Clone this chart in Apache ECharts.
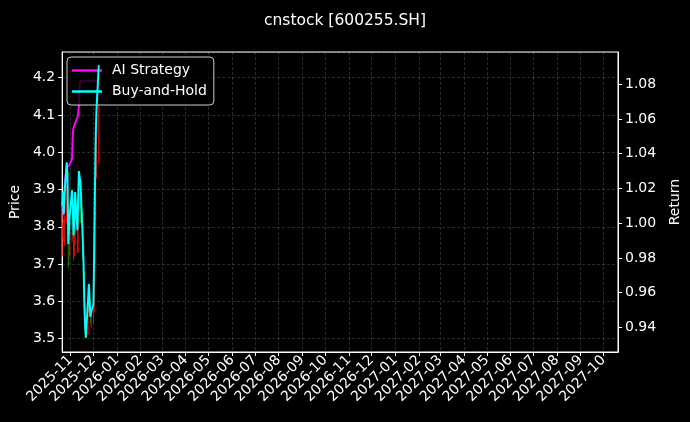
<!DOCTYPE html>
<html>
<head>
<meta charset="utf-8">
<script src="https://cdn.jsdelivr.net/npm/echarts@6/dist/echarts.min.js"></script>
<style>
html,body{margin:0;padding:0;background:#000;}
#chart{width:690px;height:422px;}
</style>
</head>
<body>
<div id="chart"></div>
<script>
// ---- data ----
const tradeDates = ['2025-10-21','2025-10-22','2025-10-23','2025-10-24','2025-10-27','2025-10-28','2025-10-29','2025-10-30','2025-10-31',
  '2025-11-03','2025-11-04','2025-11-05','2025-11-06','2025-11-07','2025-11-10','2025-11-11','2025-11-12','2025-11-13','2025-11-14',
  '2025-11-17','2025-11-18','2025-11-19','2025-11-20','2025-11-21','2025-11-24','2025-11-25','2025-11-26','2025-11-27','2025-11-28',
  '2025-12-01','2025-12-02','2025-12-03','2025-12-04','2025-12-05','2025-12-08'];
const opens  = [3.76,3.79,3.81,3.77,3.82,3.88,3.85,3.71,3.74,3.77,3.82,3.78,3.73,3.76,3.81,3.74,3.81,3.86,3.85,3.83,3.71,3.66,3.58,3.53,3.52,3.59,3.62,3.58,3.55,3.56,3.59,3.71,3.84,3.95,3.99];
const closes = [3.79,3.82,3.77,3.82,3.89,3.86,3.71,3.74,3.77,3.83,3.79,3.73,3.76,3.82,3.74,3.81,3.87,3.85,3.84,3.72,3.67,3.59,3.54,3.51,3.59,3.62,3.59,3.55,3.56,3.58,3.70,3.83,3.94,4.00,4.10];
const lows   = [3.72,3.77,3.76,3.75,3.81,3.84,3.69,3.70,3.72,3.76,3.77,3.71,3.72,3.75,3.73,3.73,3.80,3.83,3.81,3.71,3.65,3.57,3.52,3.50,3.51,3.57,3.58,3.54,3.53,3.54,3.57,3.70,3.82,3.93,3.97];
const highs  = [3.81,3.84,3.82,3.83,3.91,3.90,3.86,3.76,3.79,3.85,3.83,3.79,3.78,3.83,3.81,3.82,3.89,3.89,3.88,3.84,3.73,3.68,3.60,3.56,3.60,3.64,3.63,3.60,3.58,3.60,3.71,3.85,3.97,4.05,4.23];
const aiReturn = [1.010,1.012,1.005,1.020,1.033,1.033,1.033,1.033,1.033,1.037,1.052,1.055,1.055,1.056,1.061,1.063,1.068,1.080,1.082,
  1.082,1.082,1.082,1.082,1.082,1.082,1.082,1.082,1.082,1.082,1.082,1.082,1.082,1.082,1.082,1.082];
const bhReturn = [1.010,1.018,1.005,1.016,1.035,1.028,0.988,0.996,1.005,1.019,1.008,0.993,1.002,1.018,0.996,1.014,1.030,1.026,1.024,
  0.991,0.978,0.956,0.942,0.934,0.956,0.965,0.956,0.946,0.949,0.953,0.985,1.020,1.050,1.065,1.091];
const monthTicks = ['2025-11','2025-12','2026-01','2026-02','2026-03','2026-04','2026-05','2026-06','2026-07','2026-08','2026-09','2026-10',
  '2026-11','2026-12','2027-01','2027-02','2027-03','2027-04','2027-05','2027-06','2027-07','2027-08','2027-09','2027-10'];
const axisStart = '2025-10-21', axisEnd = '2027-10-20';

// ---- calendar categories for the date axis ----
const categories = [];
(function(){
  const p = s => { const a = s.split('-').map(Number); return Date.UTC(a[0], a[1]-1, a[2]); };
  for (let t = p(axisStart); t <= p(axisEnd); t += 86400000) {
    categories.push(new Date(t).toISOString().slice(0,10));
  }
})();
const isMonthTick = (i, v) => v.slice(8) === '01' && monthTicks.indexOf(v.slice(0,7)) >= 0;

const candleData = categories.map(d => {
  const i = tradeDates.indexOf(d);
  return i < 0 ? '-' : [opens[i], closes[i], lows[i], highs[i]];
});
const aiData = tradeDates.map((d, i) => [categories.indexOf(d), aiReturn[i]]);
const bhData = tradeDates.map((d, i) => [categories.indexOf(d), bhReturn[i]]);

const FONT = 'DejaVu Sans';
const FS = 14;
const gridLine = {show: true, lineStyle: {color: 'rgba(255,255,255,0.28)', width: 0.6, type: [3, 2]}};

const chart = echarts.init(document.getElementById('chart'), null, {renderer: 'canvas'});
chart.setOption({
  backgroundColor: '#000',
  animation: false,
  textStyle: {fontFamily: FONT},
  title: {
    text: 'cnstock [600255.SH]', left: 'center', top: 8,
    textStyle: {color: '#fff', fontSize: 15.5, fontWeight: 'normal', fontFamily: FONT}
  },
  legend: {
    orient: 'vertical', left: 67, top: 57,
    data: [{name: 'AI Strategy', icon: 'rect'}, {name: 'Buy-and-Hold', icon: 'rect'}],
    itemWidth: 30, itemHeight: 2.5, itemGap: 7,
    padding: [6.5, 7, 6.5, 5],
    backgroundColor: 'rgba(0,0,0,0.78)',
    borderColor: '#cccccc', borderWidth: 1, borderRadius: 4,
    textStyle: {color: '#fff', fontSize: FS, fontFamily: FONT, padding: [0, 0, 0, 5]}
  },
  grid: {left: 62, right: 70, top: 52, bottom: 70, show: true, borderColor: '#fff', borderWidth: 1, backgroundColor: 'transparent'},
  xAxis: {
    type: 'category', data: categories, boundaryGap: false,
    axisLine: {show: true, lineStyle: {color: '#fff', width: 1}},
    axisTick: {show: true, interval: isMonthTick, length: 4, lineStyle: {color: '#fff'}},
    axisLabel: {interval: isMonthTick, rotate: 45, color: '#fff', fontSize: FS, fontFamily: FONT, margin: 6,
      formatter: v => v.slice(0, 7)},
    splitLine: Object.assign({interval: isMonthTick}, gridLine)
  },
  yAxis: [
    {
      type: 'value', position: 'left', min: 3.464, max: 4.269, splitNumber: 8, scale: true,
      name: 'Price', nameLocation: 'middle', nameGap: 38, nameRotate: 90,
      nameTextStyle: {color: '#fff', fontSize: FS, fontFamily: FONT},
      axisLine: {show: true, lineStyle: {color: '#fff'}},
      axisTick: {show: true, length: 4, lineStyle: {color: '#fff'}},
      axisLabel: {color: '#fff', fontSize: FS, fontFamily: FONT, showMinLabel: false, showMaxLabel: false, margin: 7,
        formatter: v => Math.abs(v * 10 - Math.round(v * 10)) < 1e-6 ? v.toFixed(1) : ''},
      splitLine: gridLine
    },
    {
      type: 'value', position: 'right', min: 0.9258, max: 1.0986, splitNumber: 8, scale: true,
      name: 'Return', nameLocation: 'middle', nameGap: 50, nameRotate: 90,
      nameTextStyle: {color: '#fff', fontSize: FS, fontFamily: FONT},
      axisLine: {show: true, lineStyle: {color: '#fff'}},
      axisTick: {show: true, length: 4, lineStyle: {color: '#fff'}},
      axisLabel: {color: '#fff', fontSize: FS, fontFamily: FONT, showMinLabel: false, showMaxLabel: false, margin: 7,
        formatter: v => Math.abs(v * 50 - Math.round(v * 50)) < 1e-6 ? v.toFixed(2) : ''},
      splitLine: {show: false}
    }
  ],
  series: [
    {
      name: 'Price', type: 'candlestick', yAxisIndex: 0, data: candleData, barWidth: 2,
      itemStyle: {color: '#ff0000', color0: '#008000', borderColor: '#ff0000', borderColor0: '#008000', borderWidth: 1},
      z: 2
    },
    {
      name: 'AI Strategy', type: 'line', yAxisIndex: 1, data: aiData, symbol: 'none',
      lineStyle: {color: '#ff00ff', width: 2}, itemStyle: {color: '#ff00ff'}, z: 3
    },
    {
      name: 'Buy-and-Hold', type: 'line', yAxisIndex: 1, data: bhData, symbol: 'none',
      lineStyle: {color: '#00ffff', width: 2}, itemStyle: {color: '#00ffff'}, z: 4
    }
  ]
});
</script>
</body>
</html>
